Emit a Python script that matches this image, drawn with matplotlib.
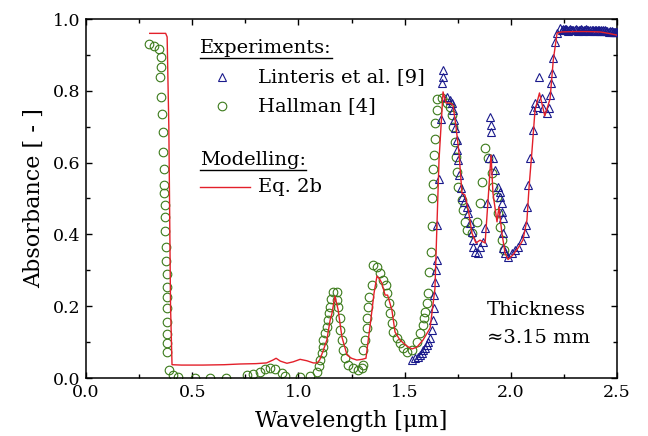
import matplotlib
matplotlib.use("Agg")
import matplotlib.pyplot as plt
from matplotlib.ticker import MultipleLocator

plt.rcParams['font.family'] = ['DejaVu Serif']
plt.rcParams['mathtext.fontset'] = 'dejavuserif'

# ---- Eq. 2b model (red line) ----
wl_model = [0.30, 0.375, 0.382, 0.39, 0.398, 0.405, 0.45, 0.55, 0.65, 0.725, 0.80, 0.85, 0.88, 0.895,
            0.915, 0.946, 0.975, 1.008, 1.04, 1.07, 1.088, 1.10, 1.116, 1.134, 1.149, 1.158, 1.172,
            1.187, 1.205, 1.229, 1.25, 1.275, 1.30, 1.318, 1.337, 1.356, 1.37, 1.383, 1.393, 1.408,
            1.42, 1.44, 1.455, 1.478, 1.51, 1.535, 1.558, 1.587, 1.62, 1.643, 1.652, 1.662, 1.676,
            1.681, 1.695, 1.714, 1.728, 1.742, 1.756, 1.77, 1.784, 1.80, 1.817, 1.836, 1.855, 1.879,
            1.893, 1.907, 1.916, 1.935, 1.944, 1.958, 1.973, 1.987, 2.01, 2.034, 2.057, 2.076, 2.086,
            2.10, 2.114, 2.135, 2.16, 2.185, 2.20, 2.218, 2.24, 2.30, 2.36, 2.42, 2.46, 2.50]
abs_model = [0.96, 0.96, 0.95, 0.70, 0.20, 0.037, 0.036, 0.036, 0.037, 0.039, 0.040, 0.042, 0.050,
             0.055, 0.047, 0.041, 0.045, 0.052, 0.048, 0.042, 0.042, 0.050, 0.075, 0.106, 0.16, 0.18,
             0.228, 0.19, 0.114, 0.064, 0.055, 0.050, 0.052, 0.055, 0.143, 0.236, 0.284, 0.275, 0.264,
             0.231, 0.231, 0.19, 0.128, 0.106, 0.089, 0.081, 0.086, 0.106, 0.139, 0.25, 0.42, 0.607,
             0.746, 0.797, 0.766, 0.766, 0.76, 0.70, 0.627, 0.515, 0.51, 0.468, 0.404, 0.376, 0.384,
             0.376, 0.496, 0.621, 0.515, 0.435, 0.476, 0.404, 0.348, 0.33, 0.343, 0.362, 0.384, 0.44,
             0.532, 0.635, 0.746, 0.794, 0.73, 0.778, 0.886, 0.961, 0.964, 0.965, 0.965, 0.964, 0.96,
             0.955]

# ---- Hallman [4] (green circles) ----
wl_hallman = [0.298, 0.320, 0.344, 0.352, 0.352, 0.348, 0.353, 0.356, 0.361, 0.361, 0.367, 0.367,
              0.369, 0.370, 0.370, 0.370, 0.377, 0.377, 0.380, 0.380, 0.380, 0.380, 0.380, 0.383,
              0.380, 0.383, 0.392, 0.408, 0.435, 0.513, 0.584, 0.659, 0.758, 0.786, 0.819, 0.843,
              0.866, 0.89, 0.923, 0.937, 1.007, 1.055, 1.088, 1.097, 1.102, 1.11, 1.116, 1.118,
              1.125, 1.134, 1.139, 1.144, 1.149, 1.153, 1.163, 1.182, 1.182, 1.186, 1.196, 1.196,
              1.205, 1.21, 1.219, 1.234, 1.257, 1.28, 1.30, 1.304, 1.304, 1.314, 1.323, 1.323,
              1.328, 1.332, 1.347, 1.351, 1.37, 1.384, 1.398, 1.412, 1.417, 1.427, 1.431, 1.441,
              1.445, 1.464, 1.478, 1.492, 1.511, 1.535, 1.558, 1.572, 1.587, 1.591, 1.596, 1.605,
              1.61, 1.615, 1.624, 1.629, 1.629, 1.634, 1.634, 1.638, 1.643, 1.643, 1.652, 1.652,
              1.676, 1.70, 1.714, 1.723, 1.728, 1.737, 1.742, 1.747, 1.751, 1.77, 1.775, 1.784,
              1.794, 1.817, 1.841, 1.855, 1.864, 1.879, 1.893, 1.911, 1.916, 1.935, 1.94, 1.949,
              1.958, 1.968]
abs_hallman = [0.930, 0.925, 0.916, 0.895, 0.867, 0.838, 0.782, 0.735, 0.686, 0.629, 0.581, 0.538,
               0.514, 0.482, 0.448, 0.410, 0.364, 0.327, 0.289, 0.254, 0.226, 0.194, 0.157, 0.123,
               0.097, 0.073, 0.022, 0.008, 0.002, 0.0, 0.0, 0.0, 0.008, 0.012, 0.018, 0.025,
               0.028, 0.025, 0.015, 0.006, 0.003, 0.006, 0.017, 0.033, 0.05, 0.07, 0.087, 0.106,
               0.125, 0.142, 0.162, 0.18, 0.198, 0.22, 0.24, 0.24, 0.217, 0.198, 0.167, 0.134,
               0.106, 0.078, 0.055, 0.036, 0.028, 0.022, 0.028, 0.036, 0.078, 0.106, 0.139, 0.167,
               0.198, 0.226, 0.259, 0.315, 0.31, 0.292, 0.273, 0.259, 0.237, 0.209, 0.181, 0.153,
               0.128, 0.111, 0.097, 0.084, 0.072, 0.078, 0.1, 0.125, 0.148, 0.167, 0.184, 0.209,
               0.237, 0.295, 0.351, 0.423, 0.501, 0.540, 0.582, 0.621, 0.666, 0.71, 0.746, 0.777,
               0.78, 0.766, 0.755, 0.733, 0.70, 0.657, 0.616, 0.574, 0.532, 0.496, 0.468, 0.435,
               0.412, 0.404, 0.435, 0.487, 0.546, 0.64, 0.613, 0.571, 0.532, 0.504, 0.46, 0.421,
               0.384, 0.357]

# ---- Linteris et al. [9] (blue triangles) ----
wl_linteris = [1.535, 1.549, 1.563, 1.572, 1.582, 1.587, 1.596, 1.605, 1.61, 1.62, 1.629, 1.634,
               1.638, 1.638, 1.643, 1.648, 1.652, 1.652, 1.662, 1.671, 1.676, 1.681, 1.681, 1.70,
               1.714, 1.723, 1.728, 1.733, 1.737, 1.747, 1.747, 1.751, 1.756, 1.766, 1.77, 1.78,
               1.794, 1.799, 1.808, 1.817, 1.822, 1.822, 1.831, 1.846, 1.855, 1.869, 1.879, 1.888,
               1.897, 1.907, 1.907, 1.902, 1.916, 1.926, 1.94, 1.949, 1.949, 1.958, 1.958, 1.963,
               1.963, 1.963, 1.973, 1.987, 2.006, 2.02, 2.034, 2.053, 2.067, 2.072, 2.076, 2.081,
               2.09, 2.105, 2.105, 2.114, 2.123, 2.133, 2.147, 2.152, 2.17, 2.18, 2.185, 2.189,
               2.194, 2.199, 2.208, 2.218, 2.232,
               2.240, 2.245, 2.250, 2.255, 2.260, 2.265, 2.270, 2.275, 2.280, 2.285, 2.290, 2.295,
               2.300, 2.305, 2.310, 2.315, 2.320, 2.325, 2.330, 2.335, 2.340, 2.345, 2.350, 2.355,
               2.360, 2.365, 2.370, 2.375, 2.380, 2.385, 2.390, 2.395, 2.400, 2.405, 2.410, 2.415,
               2.420, 2.425, 2.430, 2.435, 2.440, 2.445, 2.450, 2.455, 2.460, 2.465, 2.470, 2.475,
               2.480, 2.485, 2.490, 2.495, 2.500]
abs_linteris = [0.05, 0.055, 0.058, 0.064, 0.07, 0.078, 0.084, 0.092, 0.1, 0.111, 0.134, 0.162,
                0.195, 0.231, 0.267, 0.300, 0.329, 0.426, 0.554, 0.721, 0.822, 0.838, 0.858, 0.783,
                0.774, 0.766, 0.746, 0.719, 0.696, 0.663, 0.635, 0.607, 0.565, 0.529, 0.504, 0.49,
                0.476, 0.46, 0.432, 0.407, 0.384, 0.365, 0.351, 0.348, 0.365, 0.379, 0.418, 0.487,
                0.613, 0.685, 0.705, 0.727, 0.613, 0.579, 0.532, 0.518, 0.504, 0.487, 0.462, 0.446,
                0.404, 0.362, 0.348, 0.337, 0.348, 0.357, 0.365, 0.384, 0.404, 0.426, 0.476, 0.538,
                0.613, 0.691, 0.746, 0.766, 0.755, 0.838, 0.78, 0.752, 0.738, 0.752, 0.788, 0.822,
                0.85, 0.891, 0.936, 0.961, 0.975,
                0.970, 0.972, 0.968, 0.971, 0.972, 0.969, 0.967, 0.970, 0.971, 0.968, 0.970, 0.969,
                0.968, 0.971, 0.970, 0.967, 0.969, 0.970, 0.971, 0.968, 0.967, 0.970, 0.969, 0.971,
                0.970, 0.968, 0.967, 0.969, 0.970, 0.968, 0.966, 0.969, 0.970, 0.967, 0.968, 0.969,
                0.967, 0.968, 0.966, 0.969, 0.967, 0.968, 0.966, 0.967, 0.965, 0.966, 0.964, 0.966,
                0.965, 0.964, 0.963, 0.964, 0.963]

x_ticks = [0.0, 0.5, 1.0, 1.5, 2.0, 2.5]
y_ticks = [0.0, 0.2, 0.4, 0.6, 0.8, 1.0]

GREEN = '#3b7a1a'
BLUE = '#1a1a8c'
RED = '#e3202a'

fig = plt.figure(figsize=(6.48, 4.36), dpi=100)
ax = fig.add_axes([86/648, 1-378/436, 531/648, 359/436])

ax.plot(wl_hallman, abs_hallman, linestyle='none', marker='o', ms=6.2, mfc='none',
        mec=GREEN, mew=0.8, zorder=2)
ax.plot(wl_linteris, abs_linteris, linestyle='none', marker='^', ms=6.0, mfc='none',
        mec=BLUE, mew=0.8, zorder=3)
ax.plot(wl_model, abs_model, color=RED, lw=1.0, zorder=4)

ax.set_xlim(0.0, 2.5)
ax.set_ylim(0.0, 1.0)
ax.set_xticks(x_ticks)
ax.set_yticks(y_ticks)
ax.set_xticklabels([f"{v:.1f}" for v in x_ticks])
ax.set_yticklabels([f"{v:.1f}" for v in y_ticks])
ax.xaxis.set_minor_locator(MultipleLocator(0.25))
ax.yaxis.set_minor_locator(MultipleLocator(0.1))
ax.tick_params(which='both', direction='in', top=True, right=True, labelsize=12.5,
               width=1.0, colors='black')
ax.tick_params(which='major', length=4.5, pad=4)
ax.tick_params(which='minor', length=3)
for s in ax.spines.values():
    s.set_linewidth(1.1)

ax.set_xlabel('Wavelength [μm]', fontsize=16, labelpad=7)
ax.set_ylabel('Absorbance [ - ]', fontsize=16, labelpad=6)

def fx(px):
    return (px - 86) / 531.0

def fy(py):
    return (378 - py) / 359.0

fs = 14
t_exp = ax.text(fx(200), fy(48), 'Experiments:', transform=ax.transAxes, fontsize=fs,
                va='center', ha='left')
ax.plot([fx(222)], [fy(77)], transform=ax.transAxes, marker='^', ms=6.0, mfc='none',
        mec=BLUE, mew=0.8, linestyle='none', clip_on=False)
ax.text(fx(258), fy(77), 'Linteris et al. [9]', transform=ax.transAxes, fontsize=fs,
        va='center', ha='left')
ax.plot([fx(222)], [fy(106)], transform=ax.transAxes, marker='o', ms=6.2, mfc='none',
        mec=GREEN, mew=0.8, linestyle='none', clip_on=False)
ax.text(fx(258), fy(106), 'Hallman [4]', transform=ax.transAxes, fontsize=fs,
        va='center', ha='left')
t_mod = ax.text(fx(200), fy(160), 'Modelling:', transform=ax.transAxes, fontsize=fs,
                va='center', ha='left')
ax.plot([fx(200), fx(250)], [fy(187), fy(187)], transform=ax.transAxes, color=RED, lw=1.0,
        clip_on=False)
ax.text(fx(258), fy(187), 'Eq. 2b', transform=ax.transAxes, fontsize=fs,
        va='center', ha='left')

ax.text(fx(487), fy(310), 'Thickness', transform=ax.transAxes, fontsize=fs,
        va='center', ha='left')
ax.text(fx(487), fy(338), '≈3.15 mm', transform=ax.transAxes, fontsize=fs,
        va='center', ha='left')

# underline the legend headings
fig.canvas.draw()
inv = ax.transAxes.inverted()
for t in (t_exp, t_mod):
    bb = t.get_window_extent()
    (x0, y0), (x1, _) = inv.transform([(bb.x0, bb.y0 - 1.0), (bb.x1, bb.y0)])
    ax.plot([x0, x1], [y0, y0], transform=ax.transAxes, color='black', lw=1.0, clip_on=False)

fig.savefig('out.png', dpi=100)
